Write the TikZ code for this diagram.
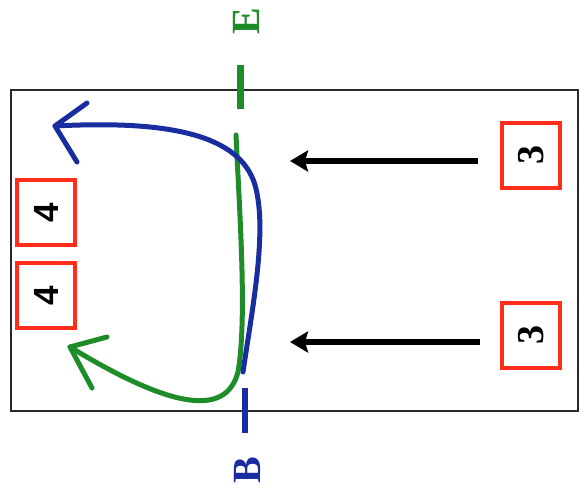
\documentclass[tikz,border=0pt]{standalone}
\usepackage{fontspec}
\setmainfont{Liberation Serif}
\newfontfamily\sansf{Liberation Sans}
\usetikzlibrary{arrows.meta}
\definecolor{secblue}{RGB}{25,45,160}
\definecolor{secgreen}{RGB}{30,140,40}
\definecolor{boxred}{RGB}{255,45,25}
\definecolor{frame}{RGB}{40,40,40}
\tikzset{
  numbox/.style={draw=boxred, line width=3.5pt, rotate=90, minimum width=65pt, minimum height=58pt, inner sep=0pt, text=black},
  seclabel/.style={rotate=90, inner sep=0pt, font=\fontsize{40}{42}\selectfont\bfseries},
  cutmark/.style={line width=6.5pt},
  flow/.style={line width=5pt, line cap=round, line join=round},
  push/.style={line width=5.5pt, -{Stealth[length=18pt,width=21pt,inset=3pt]}},
}
\begin{document}
\begin{tikzpicture}[x=1pt,y=-1pt]
\useasboundingbox (0,0) rectangle (582,494);
% outer frame
\draw[frame, line width=1.5pt] (11,90) rectangle (578,411);
% boxes
\node[numbox] (b3a) at (531,155.5) {\fontsize{38}{40}\selectfont\bfseries 3};
\node[numbox] (b3b) at (531,335.5) {\fontsize{38}{40}\selectfont\bfseries 3};
\node[numbox] (b4a) at (46,212.5) {\sansf\fontsize{35}{37}\selectfont\bfseries 4};
\node[numbox] (b4b) at (46,295.5) {\sansf\fontsize{35}{37}\selectfont\bfseries 4};
% black arrows
\coordinate (p1s) at (478,161);
\coordinate (p1e) at (290,161);
\coordinate (p2s) at (480,342);
\coordinate (p2e) at (290,342);
\draw[push] (p1s) -- (p1e);
\draw[push] (p2s) -- (p2e);
% section marks
\node[seclabel, text=secgreen] (labE) at (246,21) {E};
\node[seclabel, text=secblue] (labB) at (247,470) {B};
\coordinate (gE1) at (240.5,65);
\coordinate (gE2) at (240.5,109);
\coordinate (bB1) at (245,388);
\coordinate (bB2) at (245,433);
\draw[secgreen, cutmark] (gE1) -- (gE2);
\draw[secblue, cutmark] (bB1) -- (bB2);
% green flow curve
\coordinate (g0) at (236,135);
\coordinate (g1) at (238,372);
\coordinate (gt) at (70,347);
\draw[secgreen, flow] (g0) .. controls (240,220) and (247,320) .. (g1)
  .. controls (226,418) and (170,408) .. (gt);
\draw[secgreen, flow] (107,337) -- (gt) -- (92,388);
% blue flow curve
\coordinate (c0) at (243,372);
\coordinate (c1) at (255,185);
\coordinate (ct) at (55,126);
\draw[secblue, flow] (c0) .. controls (252,310) and (268,230) .. (c1)
  .. controls (240,135) and (170,120) .. (ct);
\draw[secblue, flow] (87,103) -- (ct) -- (77,162);
\end{tikzpicture}
\end{document}
